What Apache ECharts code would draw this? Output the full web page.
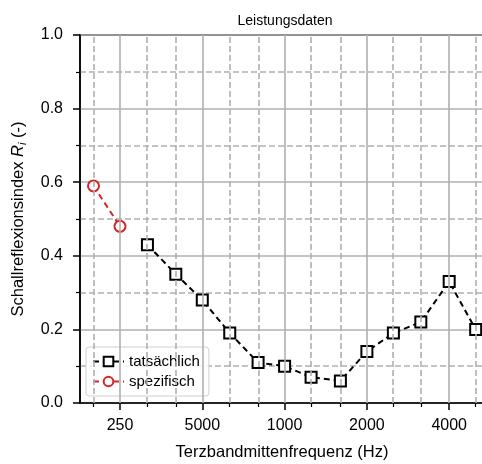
<!DOCTYPE html>
<html>
<head>
<meta charset="utf-8">
<script src="https://cdn.jsdelivr.net/npm/echarts@6/dist/echarts.min.js"></script>
<style>
html, body { margin: 0; padding: 0; background: #fff; }
#chart { width: 482px; height: 464px; }
</style>
</head>
<body>
<div id="chart"></div>
<script>
var freqTats = [315, 400, 500, 630, 800, 1000, 1250, 1600, 2000, 2500, 3150, 4000, 5000];
var tats = [0.43, 0.35, 0.28, 0.19, 0.11, 0.10, 0.07, 0.06, 0.14, 0.19, 0.22, 0.33, 0.20];
var freqSpez = [200, 250];
var spez = [0.59, 0.48];
var majorFreqs = [250, 500, 1000, 2000, 4000];
var majorLabels = ['250', '5000', '1000', '2000', '4000'];
var minorFreqs = [200, 315, 400, 630, 800, 1250, 1600, 2500, 3150, 5000];

// position on the x axis = octaves above 250 Hz
function oct(f) { return Math.log2(f / 250); }

function pairs(fs, vs) {
    var out = [];
    for (var i = 0; i < fs.length; i++) out.push([oct(fs[i]), vs[i]]);
    return out;
}

var font = "'Liberation Sans', Arial, sans-serif";
var gridGray = '#b0b0b0';

var majorPos = majorFreqs.map(oct);
var minorPos = minorFreqs.map(oct);

var vLines = [];
majorPos.forEach(function (v) {
    vLines.push({xAxis: v, lineStyle: {type: 'solid', color: gridGray, width: 1.6}});
});
minorPos.forEach(function (v) {
    vLines.push({xAxis: v, lineStyle: {type: [6, 3], color: gridGray, width: 1.6}});
});

var chart = echarts.init(document.getElementById('chart'));
chart.setOption({
    animation: false,
    backgroundColor: '#fff',
    textStyle: {fontFamily: font},
    title: {
        text: 'Leistungsdaten',
        left: 280,
        textAlign: 'center',
        top: 9,
        textStyle: {fontSize: 14, fontWeight: 'normal', color: '#000', fontFamily: font}
    },
    grid: {
        left: 80,
        right: -2,
        top: 35,
        bottom: 61,
        outerBoundsMode: 'none',
        show: true,
        borderColor: '#000',
        borderWidth: 1.5
    },
    legend: {
        data: ['tatsächlich', 'spezifisch'],
        orient: 'vertical',
        left: 86,
        top: 347,
        itemWidth: 31,
        itemHeight: 12,
        itemGap: 5,
        padding: [7, 9, 7, 6],
        backgroundColor: 'rgba(255,255,255,0.85)',
        borderColor: '#d0d0d0',
        borderWidth: 1,
        borderRadius: 3,
        textStyle: {fontSize: 15, color: '#000', fontFamily: font}
    },
    xAxis: [{
        type: 'value',
        min: -0.486,
        max: 4.423,
        name: 'Terzbandmittenfrequenz (Hz)',
        nameLocation: 'middle',
        nameGap: 41,
        nameTextStyle: {fontSize: 16.5, color: '#000', fontFamily: font},
        axisLine: {lineStyle: {color: '#000', width: 1.5}},
        axisTick: {
            customValues: majorPos,
            length: 7,
            lineStyle: {color: '#000', width: 1.5}
        },
        axisLabel: {
            customValues: majorPos,
            formatter: function (v) {
                for (var i = 0; i < majorPos.length; i++) {
                    if (Math.abs(majorPos[i] - v) < 1e-6) return majorLabels[i];
                }
                return '';
            },
            fontSize: 16,
            color: '#000',
            margin: 15,
            fontFamily: font
        },
        splitLine: {show: false}
    }, {
        type: 'value',
        position: 'bottom',
        min: -0.486,
        max: 4.423,
        axisLine: {show: false},
        axisTick: {
            customValues: minorPos,
            length: 4,
            lineStyle: {color: '#000', width: 1.2}
        },
        axisLabel: {show: false},
        splitLine: {show: false}
    }],
    yAxis: {
        type: 'value',
        min: 0,
        max: 1,
        interval: 0.2,
        name: 'Schallreflexionsindex {it|R}{sub|i} (-)',
        nameLocation: 'middle',
        nameGap: 52,
        nameTextStyle: {
            fontSize: 16.5,
            color: '#000',
            fontFamily: font,
            rich: {
                it: {fontSize: 16.5, fontStyle: 'italic', color: '#000', fontFamily: font},
                sub: {fontSize: 11, fontStyle: 'italic', color: '#000', fontFamily: font, padding: [9, 0, 0, 0]}
            }
        },
        axisLine: {show: true, onZero: false, lineStyle: {color: '#000', width: 1.5}},
        axisTick: {show: true, length: 7, lineStyle: {color: '#000', width: 1.5}},
        minorTick: {show: true, splitNumber: 2, length: 4, lineStyle: {color: '#000', width: 1.2}},
        axisLabel: {
            formatter: function (v) { return v.toFixed(1); },
            fontSize: 16,
            color: '#000',
            margin: 17,
            fontFamily: font
        },
        splitLine: {show: true, lineStyle: {color: gridGray, width: 1.6}},
        minorSplitLine: {show: true, lineStyle: {color: gridGray, width: 1.6, type: [6, 3]}}
    },
    series: [{
        name: 'grid',
        type: 'line',
        data: [],
        z: 1,
        silent: true,
        markLine: {
            silent: true,
            symbol: 'none',
            label: {show: false},
            animation: false,
            data: vLines
        }
    }, {
        name: 'tatsächlich',
        type: 'line',
        z: 3,
        data: pairs(freqTats, tats),
        symbol: 'rect',
        symbolSize: 11,
        showAllSymbol: true,
        lineStyle: {color: '#000', width: 2, type: [6, 4]},
        itemStyle: {color: '#fff', borderColor: '#000', borderWidth: 2}
    }, {
        name: 'spezifisch',
        type: 'line',
        z: 3,
        data: pairs(freqSpez, spez),
        symbol: 'circle',
        symbolSize: 11,
        lineStyle: {color: '#d62728', width: 2, type: [6, 4]},
        itemStyle: {color: '#fff', borderColor: '#d62728', borderWidth: 2}
    }]
});
</script>
</body>
</html>
